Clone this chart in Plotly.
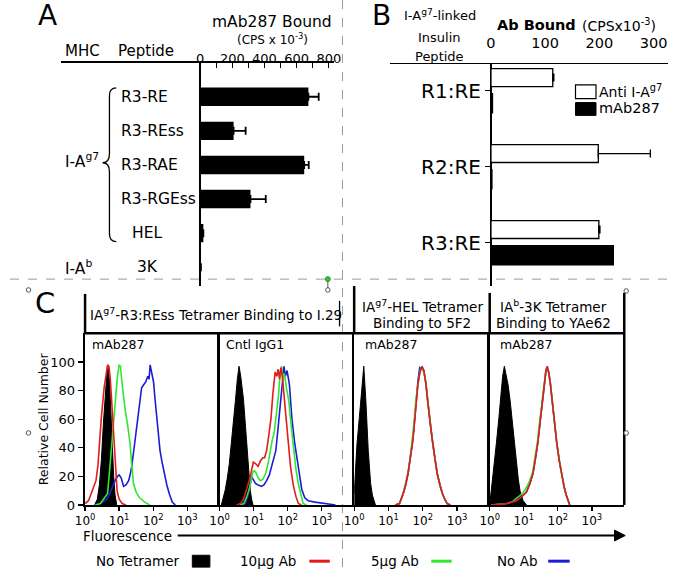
import plotly.graph_objects as go

W, H = 680, 582
FONT = "DejaVu Sans"

def PX(x):
    return x / W

def PY(y):
    return 1 - y / H

# ---------------- Panel A data ----------------
peptides_a = ["R3-RE", "R3-REss", "R3-RAE", "R3-RGEss", "HEL", "3K"]
mab287_bound = [673, 208, 647, 313, 20, 5]
mab287_err = [64, 75, 28, 95, None, None]
a_ticks = [0, 200, 400, 600, 800]
a_minor_ticks = [100, 300, 500, 700]

# ---------------- Panel B data ----------------
peptides_b = ["R1:RE", "R2:RE", "R3:RE"]
anti_iag7 = [114, 198, 199]
anti_iag7_err = [2, 96, 2]
mab287_b = [4, 3, 227]
b_ticks = [0, 100, 200, 300]

# ---------------- Panel C data (x in decades log10, y = relative cell number) ----------------
p1_black_x = [0.28, 0.36, 0.42, 0.48, 0.54, 0.60, 0.64, 0.68, 0.72, 0.76, 0.80, 0.84, 0.88, 0.93]
p1_black_y = [0, 4, 14, 32, 58, 80, 92, 96, 86, 64, 40, 20, 7, 0]
p1_red_x = [0.0, 0.10, 0.18, 0.26, 0.32, 0.38, 0.42, 0.48, 0.56, 0.62, 0.66, 0.70, 0.74, 0.78, 0.82, 0.85, 0.90, 0.94, 1.0, 1.09, 1.2]
p1_red_y = [1, 3, 8, 13, 17, 28, 43, 62, 82, 94, 98, 97, 88, 73, 58, 43, 25, 10, 4, 1, 0]
p1_green_x = [0.30, 0.45, 0.51, 0.58, 0.66, 0.73, 0.80, 0.85, 0.90, 0.95, 1.0, 1.04, 1.08, 1.13, 1.18, 1.25, 1.32, 1.37, 1.42, 1.50, 1.60, 1.75, 1.90]
p1_green_y = [0, 1, 3, 5, 8, 27, 48, 66, 77, 90, 98, 97, 86, 74, 66, 56, 43, 28, 15, 9, 5, 2, 0]
p1_blue_x = [0.30, 0.45, 0.58, 0.66, 0.74, 0.80, 0.88, 0.95, 1.0, 1.06, 1.13, 1.20, 1.28, 1.33, 1.37, 1.44, 1.51, 1.58, 1.66, 1.72, 1.78, 1.84, 1.88, 1.91, 1.95, 2.01, 2.05, 2.09, 2.15, 2.20, 2.26, 2.32, 2.40, 2.47, 2.56, 2.65]
p1_blue_y = [0, 1, 3, 5, 9, 13, 17, 20, 21, 19, 13, 14, 17, 22, 27, 40, 54, 66, 82, 84, 86, 90, 88, 98, 92, 86, 75, 66, 50, 38, 30, 22, 14, 8, 2, 0]

p2_black_x = [0.05, 0.10, 0.16, 0.22, 0.28, 0.33, 0.40, 0.46, 0.52, 0.57, 0.62, 0.66, 0.70, 0.75, 0.80, 0.85, 0.90, 0.94, 0.98]
p2_black_y = [0, 4, 10, 18, 28, 40, 55, 72, 88, 97, 90, 82, 74, 58, 40, 25, 10, 4, 0]
p2_red_x = [0.50, 0.61, 0.70, 0.76, 0.83, 0.90, 0.95, 0.99, 1.05, 1.13, 1.20, 1.27, 1.32, 1.38, 1.44, 1.51, 1.56, 1.60, 1.63, 1.68, 1.72, 1.76, 1.80, 1.84, 1.89, 1.94, 1.98, 2.03, 2.08, 2.13, 2.17, 2.24, 2.31, 2.40]
p2_red_y = [0, 1, 4, 8, 14, 20, 26, 30, 29, 27, 31, 33, 33, 38, 48, 61, 77, 86, 93, 90, 95, 88, 96, 90, 77, 60, 50, 38, 27, 19, 13, 6, 1, 0]
p2_green_x = [0.60, 0.71, 0.80, 0.88, 0.93, 0.97, 1.02, 1.08, 1.13, 1.20, 1.27, 1.35, 1.43, 1.50, 1.55, 1.60, 1.66, 1.73, 1.77, 1.82, 1.86, 1.90, 1.96, 2.03, 2.10, 2.17, 2.24, 2.31, 2.38, 2.45, 2.55]
p2_green_y = [0, 1, 6, 12, 18, 23, 24, 22, 19, 17, 18, 22, 30, 40, 46, 50, 62, 77, 90, 97, 88, 92, 82, 73, 56, 38, 25, 15, 7, 1, 0]
p2_blue_x = [0.60, 0.76, 0.85, 0.90, 0.94, 0.98, 1.05, 1.13, 1.23, 1.30, 1.38, 1.46, 1.53, 1.59, 1.65, 1.72, 1.79, 1.84, 1.89, 1.93, 1.98, 2.05, 2.12, 2.20, 2.31, 2.41, 2.50, 2.60, 2.80, 3.00, 3.20, 3.40]
p2_blue_y = [0, 1, 8, 14, 20, 18, 15, 14, 13, 14, 17, 21, 27, 33, 38, 55, 73, 88, 97, 90, 94, 84, 61, 44, 27, 11, 5, 3, 2, 1.5, 1, 0]

p3_black_x = [0.0, 0.03, 0.08, 0.15, 0.22, 0.28, 0.34, 0.41, 0.48, 0.53, 0.58, 0.62]
p3_black_y = [8, 25, 42, 61, 84, 97, 73, 38, 15, 7, 3, 0]
p3_red_x = [1.20, 1.32, 1.43, 1.50, 1.57, 1.64, 1.71, 1.76, 1.81, 1.86, 1.92, 1.98, 2.03, 2.09, 2.14, 2.21, 2.28, 2.35, 2.42, 2.50, 2.57, 2.64, 2.71, 2.80]
p3_red_y = [0, 1, 8, 14, 22, 33, 45, 58, 73, 85, 93, 97, 94, 85, 73, 58, 45, 33, 22, 14, 8, 4, 1, 0]
p3_green_x = [1.20, 1.32, 1.43, 1.50, 1.57, 1.64, 1.70, 1.75, 1.80, 1.86, 1.92, 1.97, 2.03, 2.09, 2.14, 2.21, 2.28, 2.35, 2.42, 2.50, 2.57, 2.64, 2.71, 2.80]
p3_green_y = [0, 1, 8, 15, 23, 34, 46, 59, 74, 86, 94, 96, 93, 85, 74, 58, 45, 33, 22, 14, 8, 4, 1, 0]
p3_blue_x = [1.20, 1.32, 1.43, 1.50, 1.57, 1.64, 1.71, 1.76, 1.81, 1.86, 1.91, 1.97, 2.03, 2.09, 2.14, 2.21, 2.28, 2.35, 2.42, 2.50, 2.57, 2.64, 2.71, 2.80]
p3_blue_y = [0, 1, 8, 14, 22, 34, 46, 59, 74, 87, 96, 95, 94, 85, 72, 58, 45, 33, 22, 14, 8, 4, 1, 0]

p4_black_x = [0.0, 0.04, 0.13, 0.20, 0.27, 0.33, 0.38, 0.43, 0.48, 0.54, 0.60, 0.65, 0.70, 0.75, 0.79, 0.84, 0.89, 0.98, 1.08]
p4_black_y = [0, 8, 27, 44, 61, 78, 90, 97, 92, 84, 73, 62, 50, 38, 27, 18, 10, 3, 0]
p4_red_x = [0.05, 0.30, 0.50, 0.65, 0.79, 0.90, 1.0, 1.08, 1.18, 1.27, 1.34, 1.41, 1.48, 1.55, 1.60, 1.65, 1.69, 1.73, 1.78, 1.83, 1.90, 1.97, 2.05, 2.12, 2.19, 2.26, 2.35]
p4_red_y = [0, 0.5, 1, 2, 3, 5, 7, 9, 15, 22, 32, 43, 58, 73, 85, 94, 97, 93, 85, 73, 58, 43, 30, 20, 12, 6, 0]
p4_green_x = [0.05, 0.30, 0.50, 0.65, 0.75, 0.86, 0.96, 1.05, 1.16, 1.26, 1.33, 1.40, 1.47, 1.54, 1.60, 1.65, 1.69, 1.73, 1.78, 1.83, 1.90, 1.97, 2.05, 2.12, 2.19, 2.26, 2.35]
p4_green_y = [0, 0.5, 1, 2, 4, 6, 8, 11, 16, 23, 33, 44, 59, 74, 86, 94, 96, 93, 85, 73, 58, 43, 30, 20, 12, 6, 0]
p4_blue_x = [0.05, 0.30, 0.50, 0.65, 0.79, 0.90, 1.0, 1.08, 1.18, 1.27, 1.34, 1.41, 1.48, 1.55, 1.60, 1.65, 1.68, 1.73, 1.78, 1.83, 1.90, 1.97, 2.05, 2.12, 2.19, 2.26, 2.35]
p4_blue_y = [0, 0.5, 1, 2, 3, 5, 7, 9, 15, 22, 32, 43, 58, 73, 85, 93, 96, 93, 85, 73, 58, 43, 30, 20, 12, 6, 0]

c_ticks = [1, 10, 100, 1000]
c_ticktext = ["10<sup>0</sup>", "10<sup>1</sup>", "10<sup>2</sup>", "10<sup>3</sup>"]
c_yticks = [0, 20, 40, 60, 80, 100]

RED, GREEN, BLUE = "#e41a1a", "#2ee82e", "#1c1cd6"

fig = go.Figure()

# ---------------- Panel A ----------------
fig.add_trace(go.Bar(
    x=mab287_bound, y=peptides_a, orientation="h", xaxis="x", yaxis="y",
    marker=dict(color="black", line=dict(width=0)), width=0.54,
    error_x=dict(type="data", array=mab287_err, arrayminus=[0] * len(mab287_err),
                 symmetric=False, color="black", thickness=1.8, width=4),
    showlegend=False, hoverinfo="skip"))

# ---------------- Panel B ----------------
fig.add_trace(go.Bar(
    x=anti_iag7, y=peptides_b, orientation="h", xaxis="x2", yaxis="y2",
    marker=dict(color="white", line=dict(color="black", width=1.3)),
    width=0.235, offset=-0.29,
    error_x=dict(type="data", array=anti_iag7_err, arrayminus=[0] * 3,
                 symmetric=False, color="black", thickness=1.3, width=4),
    showlegend=False, hoverinfo="skip"))
fig.add_trace(go.Bar(
    x=mab287_b, y=peptides_b, orientation="h", xaxis="x2", yaxis="y2",
    marker=dict(color="black", line=dict(width=0)),
    width=0.27, offset=0.03,
    showlegend=False, hoverinfo="skip"))

# ---------------- Panel C ----------------
panels = [
    (p1_black_x, p1_black_y, [(p1_blue_x, p1_blue_y, BLUE), (p1_green_x, p1_green_y, GREEN), (p1_red_x, p1_red_y, RED)]),
    (p2_black_x, p2_black_y, [(p2_blue_x, p2_blue_y, BLUE), (p2_green_x, p2_green_y, GREEN), (p2_red_x, p2_red_y, RED)]),
    (p3_black_x, p3_black_y, [(p3_blue_x, p3_blue_y, BLUE), (p3_green_x, p3_green_y, GREEN), (p3_red_x, p3_red_y, RED)]),
    (p4_black_x, p4_black_y, [(p4_blue_x, p4_blue_y, BLUE), (p4_green_x, p4_green_y, GREEN), (p4_red_x, p4_red_y, RED)]),
]
for i, (bx, by, curves) in enumerate(panels):
    k = i + 3
    fig.add_trace(go.Scatter(
        x=[10 ** v for v in bx], y=by, mode="lines", fill="tozeroy",
        fillcolor="black", line=dict(color="black", width=1),
        xaxis=f"x{k}", yaxis=f"y{k}", showlegend=False, hoverinfo="skip"))
    for cx, cy, col in curves:
        fig.add_trace(go.Scatter(
            x=[10 ** v for v in cx], y=cy, mode="lines",
            line=dict(color=col, width=1.6),
            xaxis=f"x{k}", yaxis=f"y{k}", showlegend=False, hoverinfo="skip"))

layout = dict(
    width=W, height=H, autosize=False,
    margin=dict(l=0, r=0, t=0, b=0, pad=0),
    paper_bgcolor="white", plot_bgcolor="rgba(0,0,0,0)",
    font=dict(family=FONT, color="black"),
    barmode="overlay",
)

# Panel A axes
a_x0, a_x1 = 52, 332
a_zero, a_800 = 195, 327
a_scale = (a_800 - a_zero) / 800
layout["xaxis"] = dict(
    domain=[PX(a_x0), PX(a_x1)], anchor="y", side="top",
    range=[(a_x0 - a_zero) / a_scale, (a_x1 - a_zero) / a_scale],
    tickvals=a_ticks, ticks="inside", ticklen=5, tickwidth=1.3,
    tickcolor="black", tickfont=dict(size=13), ticklabelstandoff=-7,
    minor=dict(tickvals=a_minor_ticks, ticks="inside", ticklen=5, tickwidth=1.3,
               tickcolor="black", showgrid=False),
    showline=True, linecolor="black",
    linewidth=1.5, showgrid=False, zeroline=True, zerolinecolor="black",
    zerolinewidth=1.5, fixedrange=True)
layout["yaxis"] = dict(
    domain=[PY(290), PY(63.5)], anchor="x", type="category",
    range=[5.55, -1], showticklabels=False, ticks="", showline=False,
    showgrid=False, zeroline=False)

# Panel B axes
b_x0, b_x1 = 390, 675
b_zero = 493.3
b_scale = 55.6 / 100
layout["xaxis2"] = dict(
    domain=[PX(b_x0), PX(b_x1)], anchor="y2", side="top",
    range=[(b_x0 - b_zero) / b_scale, (b_x1 - b_zero) / b_scale],
    tickvals=b_ticks, ticks="", tickfont=dict(size=14.5), ticklabelstandoff=9,
    showline=True, linecolor="black", linewidth=1.5, showgrid=False,
    zeroline=True, zerolinecolor="black", zerolinewidth=1.5)
layout["yaxis2"] = dict(
    domain=[PY(290), PY(65)], anchor="free", position=PX(b_zero), type="category",
    range=[2.57, -0.35], ticks="outside", ticklen=6, tickwidth=1.5, tickcolor="black",
    tickfont=dict(size=20), showline=False, showgrid=False, zeroline=False)

# Panel C axes
c_bounds = [(77, 215), (215, 353), (353, 492), (492, 630)]
for i, (x0, x1) in enumerate(c_bounds):
    k = i + 3
    layout[f"xaxis{k}"] = dict(
        domain=[PX(x0), PX(x1)], anchor=f"y{k}", type="log", range=[0, 3.95],
        tickvals=c_ticks, ticktext=c_ticktext, ticks="outside", ticklen=4,
        tickwidth=1.3, tickcolor="black", tickfont=dict(size=12),
        showline=True, linecolor="black", linewidth=2, showgrid=False, zeroline=False)
    layout[f"yaxis{k}"] = dict(
        domain=[PY(512), PY(338)], anchor=f"x{k}", range=[0, 120],
        tickvals=c_yticks, ticks="outside" if i == 0 else "", ticklen=5,
        tickwidth=1.3, tickcolor="black", showticklabels=(i == 0),
        tickfont=dict(size=13), showline=True, linecolor="black", linewidth=2.5,
        showgrid=False, zeroline=False)

shapes = []

def line(x0, y0, x1, y1, w=2, color="black", dash=None, layer="above"):
    d = dict(type="line", xref="paper", yref="paper", x0=PX(x0), y0=PY(y0),
             x1=PX(x1), y1=PY(y1), line=dict(color=color, width=w), layer=layer)
    if dash:
        d["line"]["dash"] = dash
    shapes.append(d)

def rect(x0, y0, x1, y1, fill, lc="black", lw=1):
    shapes.append(dict(type="rect", xref="paper", yref="paper", x0=PX(x0), y0=PY(y1),
                       x1=PX(x1), y1=PY(y0), fillcolor=fill, line=dict(color=lc, width=lw)))

def circle(cx, cy, r, fill, lc, lw=1):
    shapes.append(dict(type="circle", xref="paper", yref="paper",
                       x0=PX(cx - r), x1=PX(cx + r), y0=PY(cy + r), y1=PY(cy - r),
                       fillcolor=fill, line=dict(color=lc, width=lw)))

# dashed separators
line(0, 283, 680, 283, w=1, color="#9a9a9a", dash="dash", layer="below")
line(341, 0, 341, 582, w=1, color="#9a9a9a", dash="dash", layer="below")

# brace for I-Ag7
bp = [(109, 89), (102, 89), (102, 97), (102, 156), (102, 165), (95, 165), (102, 165),
      (102, 174), (102, 237), (102, 245), (109, 245)]
def P(p):
    return f"{PX(p[0]):.5f},{PY(p[1]):.5f}"
path = (f"M {P(bp[0])} Q {P(bp[1])} {P(bp[2])} L {P(bp[3])} Q {P(bp[4])} {P(bp[5])} "
        f"Q {P(bp[6])} {P(bp[7])} L {P(bp[8])} Q {P(bp[9])} {P(bp[10])}")
shapes.append(dict(type="path", xref="paper", yref="paper", path=path,
                   line=dict(color="black", width=1.3)))

# panel C header frame
line(77, 298, 77, 338, w=2.5)
line(353, 290, 353, 338, w=2.5)
line(492, 297, 492, 338, w=2.5)
line(630, 297, 630, 512, w=2.5)
line(77, 338, 630, 338, w=2.5)
line(338, 305, 338, 331, w=1.3)

# Fluorescence arrow
line(172, 543, 622, 543, w=2)
shapes.append(dict(type="path", xref="paper", yref="paper",
                   path=f"M {P((620, 537.5))} L {P((631, 543))} L {P((620, 548.5))} Z",
                   fillcolor="black", line=dict(color="black", width=1)))

# bottom legend swatches
rect(187, 563, 205, 575, "black")
line(307, 569, 328, 569, w=3, color=RED)
line(432, 569, 453, 569, w=3, color=GREEN)
line(552, 569, 574, 569, w=3, color=BLUE)

# panel B legend swatches
rect(580, 86, 601, 100, "white", lw=1.2)
rect(580, 104, 601, 117, "black")

# selection handles
for cx, cy in [(19, 294), (326, 294), (632, 295), (19, 439), (632, 439)]:
    circle(cx, cy, 2.3, "white", "#555555", 1)
line(326, 285, 326, 292, w=1, color="#555555")
circle(326, 283, 2.5, "#33cc33", "#228822", 1)

layout["shapes"] = shapes

ann = []

def text(x, y, s, size, xanchor="center", yanchor="middle", bold=False, angle=0):
    ann.append(dict(x=PX(x), y=PY(y), xref="paper", yref="paper",
                    text=(f"<b>{s}</b>" if bold else s),
                    showarrow=False, xanchor=xanchor, yanchor=yanchor, textangle=angle,
                    font=dict(size=size, family=FONT, color="black")))

# Panel A texts
text(38, 16, "A", 28)
text(269, 22, "mAb287 Bound", 15.5)
text(269, 40, "(CPS x 10<sup>-3</sup>)", 12)
text(74, 52, "MHC", 15)
text(139, 52, "Peptide", 15)
for p in peptides_a:
    centered = p in ("HEL", "3K")
    ann.append(dict(x=PX(141 if centered else 112), y=p, xref="paper", yref="y", text=p,
                    showarrow=False, xanchor="center" if centered else "left",
                    yanchor="middle", font=dict(size=15.5, family=FONT, color="black")))
text(74, 163, "I-A<sup>g7</sup>", 15.5)
text(70, 271, "I-A<sup>b</sup>", 15.5)

# Panel B texts
text(381, 16, "B", 28)
text(441, 15, "I-A<sup>g7</sup>-linked", 13)
text(441, 38, "Insulin", 13)
text(441, 57, "Peptide", 13)
text(540, 25, "Ab Bound", 14.5, bold=True)
text(625, 25, "(CPSx10<sup>-3</sup>)", 14)
text(602, 92, "Anti I-A<sup>g7</sup>", 14, xanchor="left")
text(602, 110, "mAb287", 14.5, xanchor="left")

# Panel C texts
text(36, 307, "C", 29)
text(80, 318, "IA<sup>g7</sup>-R3:REss Tetramer Binding to I.29", 13.5, xanchor="left")
text(423, 310, "IA<sup>g7</sup>-HEL Tetramer", 13.5)
text(423, 327, "Binding to 5F2", 13.5)
text(557, 310, "IA<sup>b</sup>-3K Tetramer", 13.5)
text(557, 327, "Binding to YAe62", 13.5)
text(82, 349, "mAb287", 12.5, xanchor="left")
text(219, 349, "Cntl IgG1", 12.5, xanchor="left")
text(362, 349, "mAb287", 12.5, xanchor="left")
text(501, 349, "mAb287", 12.5, xanchor="left")
text(34, 425, "Relative Cell Number", 12.5, angle=-90)
text(73, 543, "Fluorescence", 13.5, xanchor="left")

# bottom legend texts
text(175, 569, "No Tetramer", 13.5, xanchor="right")
text(295, 569, "10μg Ab", 13.5, xanchor="right")
text(422, 569, "5μg Ab", 13.5, xanchor="right")
text(543, 569, "No Ab", 13.5, xanchor="right")

layout["annotations"] = ann
fig.update_layout(**layout)
fig.write_html("out.html", config={"displayModeBar": False, "staticPlot": True},
               post_script="document.body.style.margin='0';document.body.style.overflow='hidden';")
